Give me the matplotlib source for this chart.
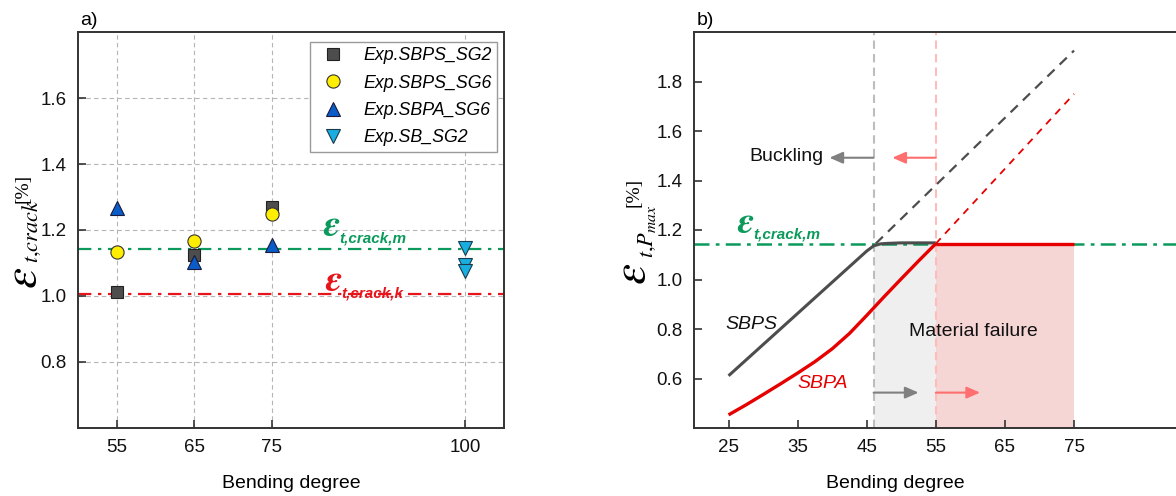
import matplotlib
matplotlib.use('Agg')
import matplotlib.pyplot as plt

plt.rcParams['font.family'] = ['Liberation Sans', 'DejaVu Sans']

# ---------------- Panel a data ----------------
deg_sbps = [55, 65, 75]
sbps_sg2 = [1.011, 1.124, 1.27]
sbps_sg6 = [1.133, 1.168, 1.25]
sbpa_sg6 = [1.268, 1.102, 1.156]
deg_sb = [100, 100, 100]
sb_sg2 = [1.145, 1.095, 1.075]
crack_m = 1.142
crack_k = 1.006
a_xticks = [55, 65, 75, 100]
a_yticks = [0.8, 1.0, 1.2, 1.4, 1.6]
legend_labels = ['Exp.SBPS_SG2', 'Exp.SBPS_SG6', 'Exp.SBPA_SG6', 'Exp.SB_SG2']

# ---------------- Panel b data ----------------
sbps_deg = [25, 30, 35, 40, 45, 46, 47, 48, 50, 55]
sbps_val = [0.611, 0.737, 0.863, 0.989, 1.115, 1.136, 1.144, 1.146, 1.148, 1.148]
sbps_ext_deg = [46.3, 75]
sbps_ext_val = [1.145, 1.925]
sbpa_deg = [25, 27.5, 30, 32.5, 35, 37.5, 40, 42.5, 45, 47.5, 50, 52.5, 55]
sbpa_val = [0.453, 0.493, 0.535, 0.578, 0.622, 0.668, 0.72, 0.782, 0.855, 0.93, 1.003, 1.075, 1.145]
sbpa_ext_deg = [55, 75]
sbpa_ext_val = [1.145, 1.75]
failure_deg = [55, 75]
failure_val = [1.145, 1.145]
buckling_angle = 46
failure_angle = 55
b_xticks = [25, 35, 45, 55, 65, 75]
b_yticks = [0.6, 0.8, 1.0, 1.2, 1.4, 1.6, 1.8]

W, H = 1176, 496
fig = plt.figure(figsize=(W / 100, H / 100), dpi=100)


def fx(px):
    return px / W


def fy(py):
    return 1 - py / H


SPINE = '#333333'
GREEN = '#0b9a5c'
RED = '#e8141c'
TICKSIZE = 13.5

# ================= Panel a =================
ax1 = fig.add_axes([fx(78), fy(428), 426 / W, 396 / H])
ax1.set_xlim(50, 105)
ax1.set_ylim(0.6, 1.8)
ax1.set_xticks(a_xticks)
ax1.set_yticks(a_yticks)
ax1.grid(True, color='#b5b5b5', linestyle=(0, (4, 3)), linewidth=0.8)
ax1.set_axisbelow(True)

ax1.axhline(crack_m, color=GREEN, lw=1.6, dashes=(6, 3, 1.5, 3), zorder=2)
ax1.axhline(crack_k, color=RED, lw=1.6, dashes=(6, 3, 1.5, 3), zorder=2)

ax1.plot(deg_sbps, sbps_sg2, 's', ms=8, mfc='#4d4d4d', mec='#222222', mew=0.8,
         ls='none', label=legend_labels[0], zorder=3)
ax1.plot(deg_sbps, sbps_sg6, 'o', ms=9.5, mfc='#ffee00', mec='#333333', mew=0.8,
         ls='none', label=legend_labels[1], zorder=4)
ax1.plot(deg_sbps, sbpa_sg6, '^', ms=10.5, mfc='#0a5cc8', mec='#1a1a3a', mew=0.8,
         ls='none', label=legend_labels[2], zorder=5)
ax1.plot(deg_sb, sb_sg2, 'v', ms=10.5, mfc='#1aaee0', mec='#1a3a4a', mew=0.8,
         ls='none', label=legend_labels[3], zorder=5)

leg = ax1.legend(loc='upper right', bbox_to_anchor=(0.984, 0.975), borderaxespad=0,
                 fancybox=False, framealpha=1, edgecolor='#9a9a9a',
                 prop={'style': 'italic', 'size': 12.8}, borderpad=0.3,
                 handlelength=2.0, handletextpad=0.7, labelspacing=0.58)
leg.get_frame().set_linewidth(1.0)

ax1.set_xlabel('Bending degree', fontsize=14)
ax1.xaxis.set_label_coords(0.5, -0.118)
ax1.tick_params(direction='in', length=6, width=1.2, labelsize=TICKSIZE, pad=8,
                color=SPINE, labelcolor='#111111')
for s in ax1.spines.values():
    s.set_linewidth(1.4)
    s.set_color(SPINE)

# epsilon labels panel a
ax1.text(81.7, 1.183, '\u03b5', family=['STIXGeneral'], fontsize=27,
         fontweight='bold', style='italic', color=GREEN, ha='left', va='baseline')
ax1.text(83.8, 1.162, 't,crack,m', fontsize=11, fontweight='bold', style='italic',
         color=GREEN, ha='left', va='baseline')
ax1.text(81.9, 1.015, '\u03b5', family=['STIXGeneral'], fontsize=27,
         fontweight='bold', style='italic', color=RED, ha='left', va='baseline')
ax1.text(84.0, 0.994, 't,crack,k', fontsize=11, fontweight='bold', style='italic',
         color=RED, ha='left', va='baseline')

# y label panel a
fig.text(fx(24), fy(289), r'$\varepsilon$', rotation=90, fontsize=34,
         math_fontfamily='stix', ha='center', va='bottom')
fig.text(fx(32), fy(263), r'$t{,}crack$', rotation=90, fontsize=16,
         math_fontfamily='stix', ha='center', va='bottom')
fig.text(fx(22.5), fy(203), '[%]', rotation=90, fontsize=14,
         family=['Liberation Serif'], ha='center', va='bottom')

fig.text(fx(80), fy(29), 'a)', fontsize=14, ha='left', va='bottom')

# ================= Panel b =================
ax2 = fig.add_axes([fx(694), fy(428), 490.6 / W, 396 / H])
ax2.set_xlim(20, 91)
ax2.set_ylim(0.4, 2.0)
ax2.set_xticks(b_xticks)
ax2.set_yticks(b_yticks)

ax2.fill_between(sbps_deg[5:], 0.4, sbps_val[5:], color='#efefef', lw=0, zorder=0)
ax2.fill_between(failure_deg, 0.4, failure_val, color='#f6d5d5', lw=0, zorder=0)
ax2.axvline(buckling_angle, color='#bdbdbd', lw=1.5, dashes=(4, 2.5), zorder=1)
ax2.axvline(failure_angle, color='#ffbcbc', lw=1.5, dashes=(4, 2.5), zorder=1)

ax2.axhline(crack_m, color=GREEN, lw=1.8, dashes=(6, 2.5, 1.5, 2.5), zorder=2)

ax2.plot(sbps_ext_deg, sbps_ext_val, color='#4d4d4d', lw=1.6, dashes=(4.5, 3.2), zorder=3)
ax2.plot(sbpa_ext_deg, sbpa_ext_val, color='#e60000', lw=1.3, dashes=(4, 3.5), zorder=3)
ax2.plot(sbps_deg, sbps_val, color='#4d4d4d', lw=2.2, zorder=4, solid_capstyle='butt')
ax2.plot(sbpa_deg, sbpa_val, color='#e60000', lw=2.4, zorder=5, solid_capstyle='butt')
ax2.plot(failure_deg, failure_val, color='#e60000', lw=2.4, zorder=5, solid_capstyle='butt')

arrow_gray = dict(arrowstyle='-|>,head_length=0.8,head_width=0.35', color='#808080', lw=1.5,
                  shrinkA=0, shrinkB=0)
arrow_red = dict(arrowstyle='-|>,head_length=0.8,head_width=0.35', color='#ff6f6f', lw=1.5,
                 shrinkA=0, shrinkB=0)
ax2.annotate('', xy=(39.6, 1.492), xytext=(buckling_angle, 1.492), arrowprops=arrow_gray)
ax2.annotate('', xy=(48.7, 1.492), xytext=(failure_angle, 1.492), arrowprops=arrow_red)
ax2.annotate('', xy=(52.5, 0.543), xytext=(buckling_angle, 0.543), arrowprops=arrow_gray)
ax2.annotate('', xy=(61.4, 0.543), xytext=(failure_angle, 0.543), arrowprops=arrow_red)

ax2.text(38.8, 1.497, 'Buckling', fontsize=14, ha='right', va='center', color='#111111')
ax2.text(60.5, 0.79, 'Material failure', fontsize=14, ha='center', va='center',
         color='#111111')
ax2.text(28.35, 0.82, 'SBPS', fontsize=14, style='italic', ha='center', va='center',
         color='#111111')
ax2.text(38.6, 0.58, 'SBPA', fontsize=14, style='italic', ha='center', va='center',
         color='#e60000')

ax2.text(26.3, 1.186, '\u03b5', family=['STIXGeneral'], fontsize=27,
         fontweight='bold', style='italic', color=GREEN, ha='left', va='baseline')
ax2.text(28.6, 1.166, 't,crack,m', fontsize=11, fontweight='bold', style='italic',
         color=GREEN, ha='left', va='baseline')

ax2.set_xlabel('Bending degree', fontsize=14)
ax2.xaxis.set_label_coords(201 / 490.6, -0.118)
ax2.tick_params(direction='in', length=6, width=1.2, labelsize=TICKSIZE, pad=8,
                color=SPINE, labelcolor='#111111')
for s in ax2.spines.values():
    s.set_linewidth(1.4)
    s.set_color(SPINE)

fig.text(fx(633), fy(285), r'$\varepsilon$', rotation=90, fontsize=34,
         math_fontfamily='stix', ha='center', va='bottom')
fig.text(fx(647), fy(258), r'$t{,}P_{max}$', rotation=90, fontsize=16,
         math_fontfamily='stix', ha='center', va='bottom')
fig.text(fx(634), fy(207), '[%]', rotation=90, fontsize=14,
         family=['Liberation Serif'], ha='center', va='bottom')

fig.text(fx(697), fy(29), 'b)', fontsize=14, ha='left', va='bottom')

fig.savefig('out.png', dpi=100)
